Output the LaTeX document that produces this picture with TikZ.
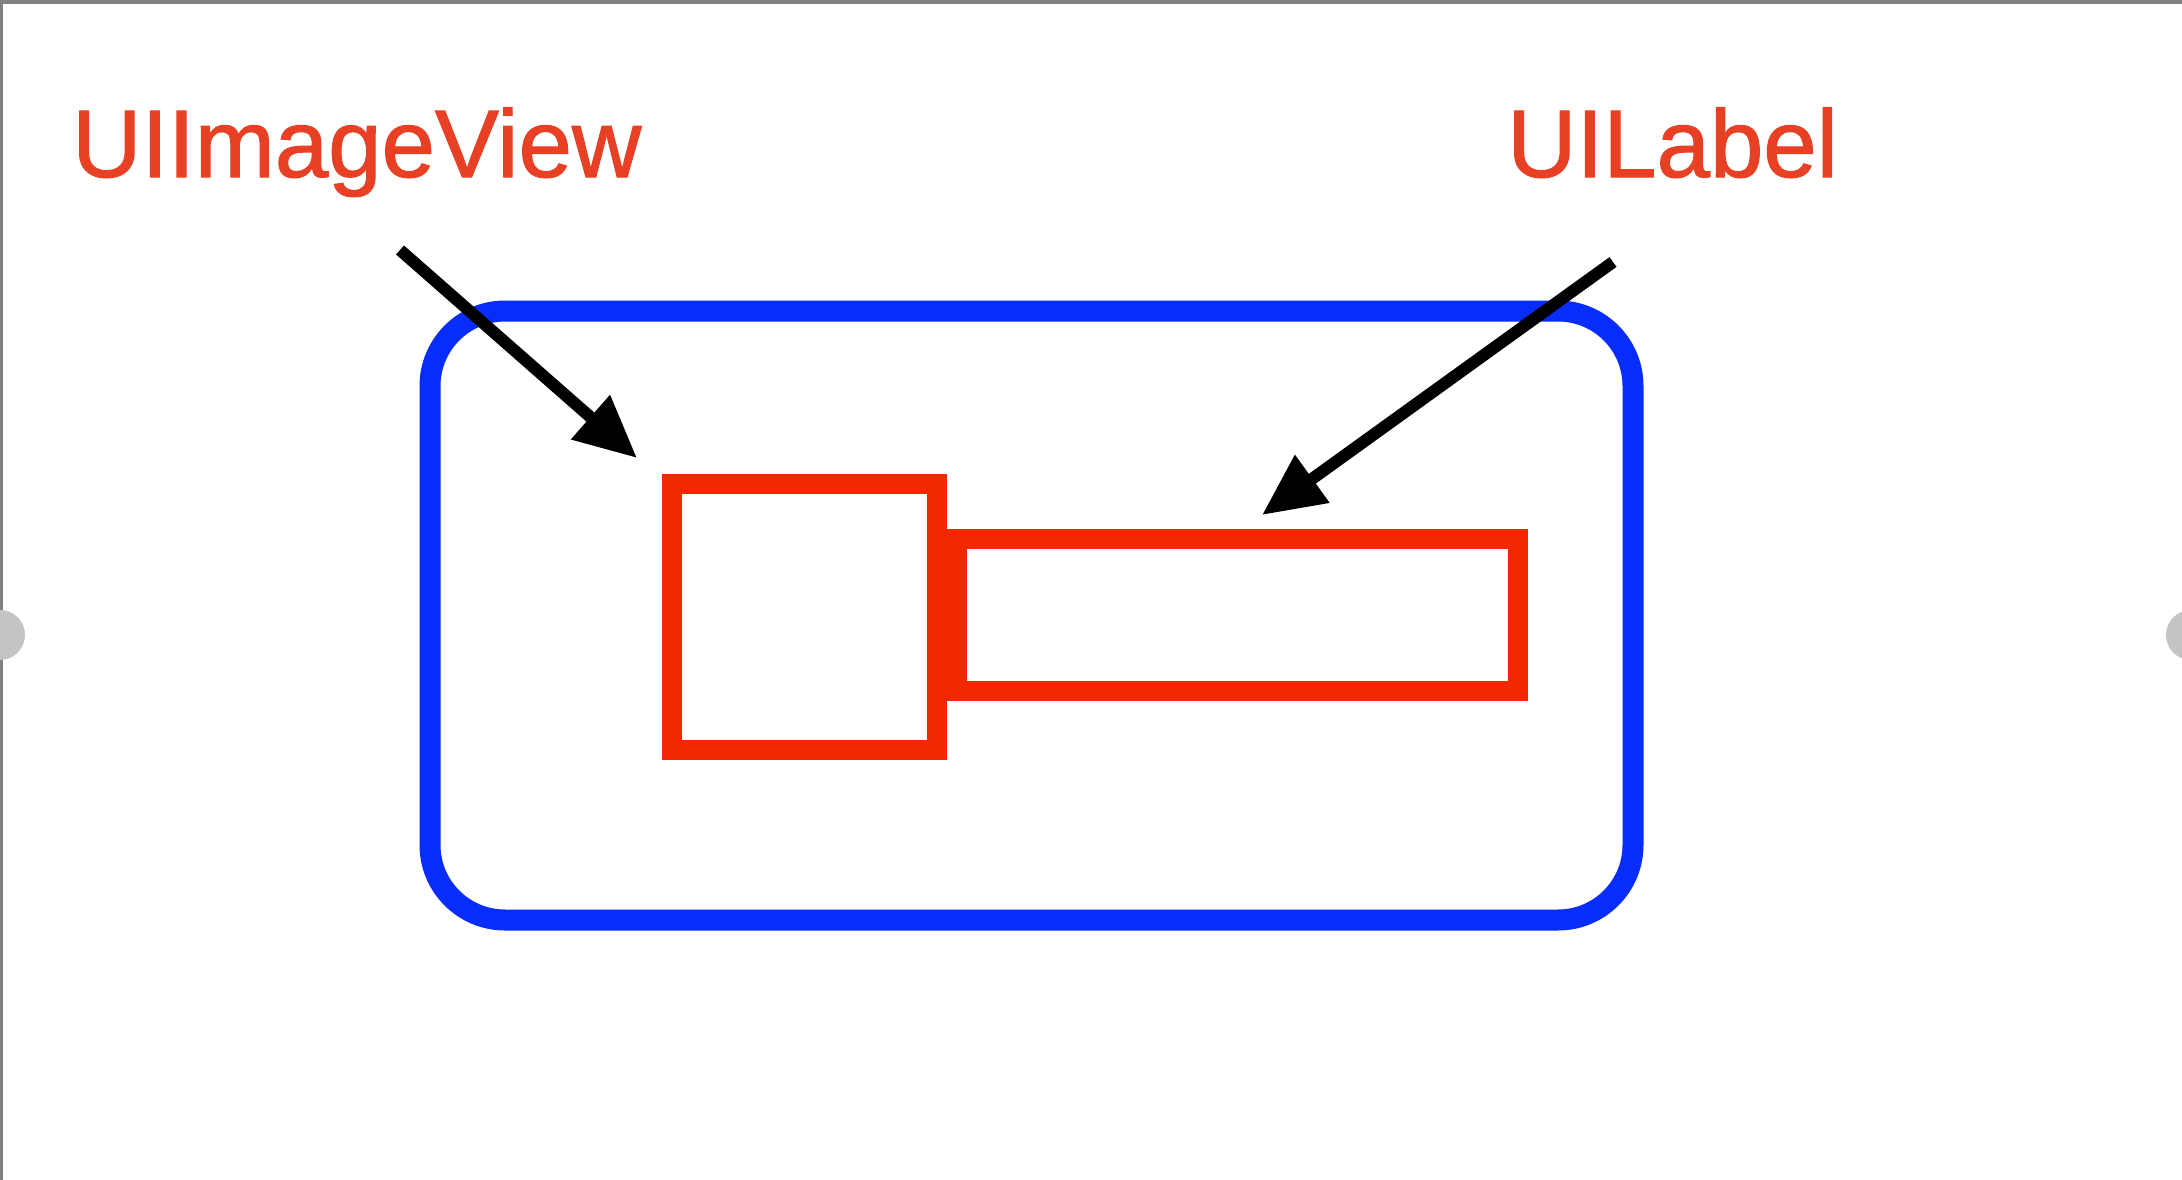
\documentclass[tikz,border=0pt]{standalone}
\usepackage{fontspec}
\setmainfont{Liberation Sans}
\newfontfamily\capfont[FakeBold=1.2]{Liberation Sans}
\usetikzlibrary{arrows.meta}
\definecolor{frameblue}{RGB}{8,44,250}
\definecolor{boxred}{RGB}{242,40,0}
\definecolor{textred}{RGB}{232,64,36}
\definecolor{edgegray}{RGB}{128,128,128}
\definecolor{tabgray}{RGB}{196,196,196}
\tikzset{
  container/.style={draw=frameblue, line width=21pt, rounded corners=75pt},
  viewbox/.style={draw=boxred, line width=20pt},
  caption/.style={text=textred, font=\capfont\fontsize{96}{110}\selectfont, inner sep=0pt, anchor=base west},
  pointer/.style={draw=black, line width=12pt, -{Triangle[length=62pt,width=56pt]}}
}
\begin{document}
\begin{tikzpicture}[x=1pt,y=-1pt]
\useasboundingbox (0,0) rectangle (2182,1180);
\fill[white] (0,0) rectangle (2182,1180);
% screenshot edges
\fill[edgegray] (0,0) rectangle (2182,4);
\fill[edgegray] (0,0) rectangle (3,1180);
\fill[tabgray] (0,635) circle[radius=25];
\fill[tabgray] (2191,635) circle[radius=25];
% container
\draw[container] (430,311) rectangle (1633,920);
% subviews
\node[viewbox, minimum width=265pt, minimum height=266pt, inner sep=0pt, outer sep=0pt] (img) at (804.5,617) {};
\node[viewbox, minimum width=561pt, minimum height=152pt, inner sep=0pt, outer sep=0pt] (lbl) at (1237.5,615) {};
% captions
\node[caption] (capimg) at (72,177) {UIImageView};
\node[caption] (caplbl) at (1507,177) {UILabel};
% pointers
\coordinate (a1s) at (400,250);
\coordinate (a1e) at (637,458);
\coordinate (a2s) at (1613,262);
\coordinate (a2e) at (1262,515);
\draw[pointer] (a1s) -- (a1e);
\draw[pointer] (a2s) -- (a2e);
\end{tikzpicture}
\end{document}
